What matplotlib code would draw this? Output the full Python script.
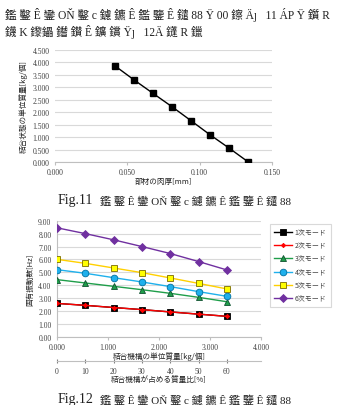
import matplotlib
matplotlib.use("Agg")
import matplotlib.pyplot as plt

plt.rcParams['font.family'] = ['Noto Sans CJK JP', 'DejaVu Sans']

# ---- data: chart 1 ----
thickness = [0.0415, 0.0546, 0.0677, 0.0809, 0.0940, 0.1070, 0.1203, 0.1336]
unit_mass = [3.86, 3.30, 2.76, 2.22, 1.66, 1.10, 0.56, 0.00]
y1_ticks = [0.0, 0.5, 1.0, 1.5, 2.0, 2.5, 3.0, 3.5, 4.0, 4.5]
x1_ticks = [0.000, 0.050, 0.100, 0.150]

# ---- data: chart 2 ----
mass_kg = [0.000, 0.555, 1.110, 1.665, 2.220, 2.775, 3.330]
mass_pct = [0, 10, 20, 30, 40, 50, 60]
mode1 = [2.60, 2.45, 2.28, 2.12, 1.94, 1.77, 1.60]
mode2 = [2.60, 2.45, 2.28, 2.12, 1.94, 1.77, 1.60]
mode3 = [4.44, 4.18, 3.92, 3.66, 3.38, 3.07, 2.73]
mode4 = [5.21, 4.93, 4.59, 4.26, 3.90, 3.51, 3.15]
mode5 = [6.01, 5.70, 5.34, 4.98, 4.57, 4.15, 3.72]
mode6 = [8.45, 8.00, 7.52, 7.00, 6.46, 5.84, 5.19]
mode_labels = ['1次モード', '2次モード', '3次モード', '4次モード', '5次モード', '6次モード']
y2_ticks = [0, 1, 2, 3, 4, 5, 6, 7, 8, 9]
x2_ticks = [0, 1, 2, 3, 4]

W, H = 343, 406
fig = plt.figure(figsize=(W / 100, H / 100), dpi=100)
fig.patch.set_facecolor('white')

def rect(x0, y0, x1, y1):
    return [x0 / W, 1 - y1 / H, (x1 - x0) / W, (y1 - y0) / H]

tick_font = dict(family=['Liberation Serif', 'DejaVu Serif'], size=5.5)
grid_c = '#d9d9d9'
spine_c = '#bfbfbf'
text_c = '#404040'

# ---- top garbled text (scanned) ----
serif = ['Liberation Serif', 'Noto Sans CJK JP', 'DejaVu Serif']
fig.text(5 / W, 1 - 15 / H,
         '鑑 鑿 Ê 鑾 OŇ 鑿 c 鑢 鑣 Ê 鑑 鑒 Ê 鑓 88 Ÿ 00 鑔 Äȷ   11 ÁP Ÿ 鑕 R',
         family=serif, size=8.3, va='center', ha='left', color='#202020')
fig.text(5 / W, 1 - 32 / H,
         '鑖 K 鑗鑘 鑙 鑚 Ê 鑛 鑜 Ÿȷ   12Ä 鑝 R 鑞',
         family=serif, size=8.3, va='center', ha='left', color='#202020')

# ---- chart 1 ----
ax1 = fig.add_axes(rect(55, 51, 272, 163))
ax1.plot(thickness, unit_mass, color='black', lw=1.0, marker='s', ms=5.0,
         mfc='black', mec='black', zorder=3)
ax1.set_xlim(0, 0.150)
ax1.set_ylim(0, 4.5)
ax1.set_yticks(y1_ticks)
ax1.set_yticklabels([f'{v:.3f}' for v in y1_ticks], **tick_font, color=text_c)
ax1.set_xticks(x1_ticks)
ax1.set_xticklabels([f'{v:.3f}' for v in x1_ticks], **tick_font, color=text_c)
ax1.grid(axis='y', color=grid_c, lw=0.8)
ax1.set_axisbelow(True)
for s in ['top', 'right', 'left']:
    ax1.spines[s].set_visible(False)
ax1.spines['bottom'].set_color(spine_c)
ax1.spines['bottom'].set_linewidth(0.8)
ax1.tick_params(axis='y', length=0, pad=4)
ax1.tick_params(axis='x', length=2.5, color=spine_c, pad=1.5)
ax1.set_xlabel('部材の肉厚[mm]', fontsize=5.5, labelpad=1, color='#202020')
ax1.set_ylabel('結合状態の単位質量[kg/個]', fontsize=5.5, labelpad=3, color='#202020')

fig.text(58 / W, 1 - 201 / H, 'Fig.11', family=serif, size=10,
         va='center', ha='left', color='#202020')
fig.text(100 / W, 1 - 201 / H, '鑑 鑿 Ê 鑾 OŇ 鑿 c 鑢 鑣 Ê 鑑 鑒 Ê 鑓 88',
         family=serif, size=8, va='center', ha='left', color='#202020')

# ---- chart 2 ----
ax2 = fig.add_axes(rect(57, 221.7, 261, 338))
series = [mode1, mode2, mode3, mode4, mode5, mode6]
colors = ['black', '#ff0000', '#1f9e4a', '#1fb0ec', '#ffd000', '#7030a0']
mfcs = ['black', '#ff0000', '#1f9e4a', '#1fb0ec', '#ffff00', '#7030a0']
markers = ['s', 'D', '^', 'o', 's', 'D']
msizes = [5.0, 2.2, 4.8, 4.8, 5.0, 3.6]
for vals, c, mfc, m, ms, lab in zip(series, colors, mfcs, markers, msizes, mode_labels):
    mec = c if c != '#ffd000' else '#7a6a00'
    if m in ('^', 'o'):
        mec = '#105030' if m == '^' else '#0070a0'
    ax2.plot(mass_kg, vals, color=c, lw=1.0, marker=m, ms=ms, mfc=mfc,
             mec=mec, mew=0.6, label=lab, zorder=3)
ax2.set_xlim(0, 4)
ax2.set_ylim(0, 9)
ax2.set_yticks(y2_ticks)
ax2.set_yticklabels([f'{v:.2f}' for v in y2_ticks], **tick_font, color=text_c)
ax2.set_xticks(x2_ticks)
ax2.set_xticklabels([f'{v:.3f}' for v in x2_ticks], **tick_font, color=text_c)
ax2.grid(axis='y', color=grid_c, lw=0.8)
ax2.set_axisbelow(True)
for s in ['top', 'right']:
    ax2.spines[s].set_visible(False)
for s in ['left', 'bottom']:
    ax2.spines[s].set_color(spine_c)
    ax2.spines[s].set_linewidth(0.8)
ax2.tick_params(axis='y', length=0, pad=4)
ax2.tick_params(axis='x', length=2.5, color=spine_c, pad=2)
ax2.set_xlabel('結合機構の単位質量[kg/個]', fontsize=5.5, labelpad=0, color='#202020')
ax2.set_ylabel('固有振動数[Hz]', fontsize=5.5, labelpad=3, color='#202020')

leg = ax2.legend(loc='upper left', bbox_to_anchor=((266.7 - 57) / 204, 1.0),
                 frameon=True, handlelength=2.6, handletextpad=0.3,
                 labelspacing=0.75, borderpad=0.6, fancybox=False,
                 prop={'family': ['Noto Sans CJK JP'], 'size': 5})
leg.get_frame().set_edgecolor('#d0d0d0')
leg.get_frame().set_linewidth(0.8)
for t in leg.get_texts():
    t.set_color('#404040')

# secondary percent axis
ax3 = fig.add_axes(rect(57, 361, 261, 362))
ax3.set_xlim(0, 4 * mass_pct[-1] / mass_kg[-1])
ax3.set_ylim(0, 1)
ax3.set_xticks(mass_pct)
ax3.set_xticklabels([str(v) for v in mass_pct], **tick_font, color=text_c)
ax3.set_yticks([])
for s in ['top', 'right', 'left']:
    ax3.spines[s].set_visible(False)
ax3.spines['bottom'].set_color(spine_c)
ax3.spines['bottom'].set_linewidth(0.8)
ax3.tick_params(axis='x', length=2.5, direction='inout', color='#808080', pad=3)
ax3.patch.set_alpha(0)
ax3.set_xlabel('結合機構が占める質量比[%]', fontsize=5.5, labelpad=0, color='#202020')

fig.text(58 / W, 1 - 400 / H, 'Fig.12', family=serif, size=10,
         va='center', ha='left', color='#202020')
fig.text(100 / W, 1 - 400 / H, '鑑 鑿 Ê 鑾 OŇ 鑿 c 鑢 鑣 Ê 鑑 鑒 Ê 鑓 88',
         family=serif, size=8, va='center', ha='left', color='#202020')

fig.savefig('out.png', dpi=100, facecolor='white')
